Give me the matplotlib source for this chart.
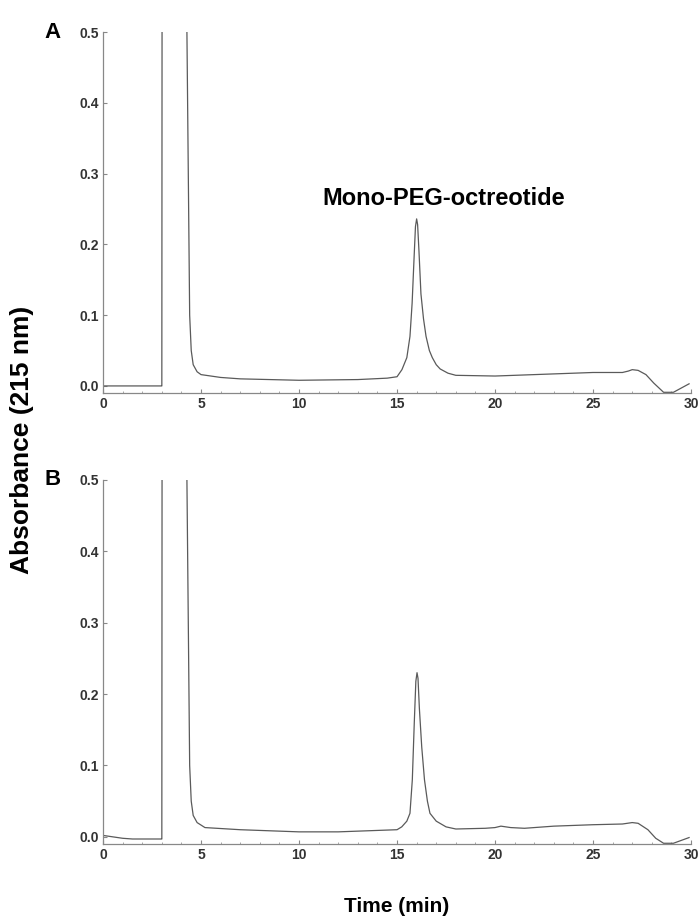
import matplotlib
matplotlib.use("Agg")
import matplotlib.pyplot as plt
from matplotlib.ticker import MultipleLocator

plt.rcParams['font.family'] = ['Liberation Sans', 'DejaVu Sans']

# Chromatogram A (time in min, absorbance at 215 nm); values above 0.5 are off scale
time_a = [0.0, 2.98, 3.0, 3.02, 4.25, 4.28, 4.35, 4.42, 4.5, 4.6, 4.8, 5.0, 6.0, 7.0, 10.0, 13.0,
          14.5, 15.0, 15.25, 15.5, 15.66, 15.77, 15.86, 15.94, 16.0, 16.05, 16.12, 16.22, 16.35,
          16.48, 16.65, 16.8, 17.0, 17.2, 17.6, 18.0, 20.0, 22.0, 25.0, 26.5, 26.8, 27.0, 27.3,
          27.7, 28.1, 28.6, 29.1, 29.5, 29.9]
abs_a = [0.0, 0.0, 0.0, 0.9, 0.9, 0.5, 0.3, 0.1, 0.05, 0.03, 0.02, 0.016, 0.012, 0.01, 0.008, 0.009,
         0.011, 0.013, 0.023, 0.04, 0.07, 0.117, 0.175, 0.225, 0.236, 0.228, 0.19, 0.13, 0.095,
         0.07, 0.05, 0.04, 0.03, 0.024, 0.018, 0.015, 0.014, 0.016, 0.019, 0.019, 0.021, 0.023, 0.022,
         0.016, 0.004, -0.009, -0.009, -0.003, 0.003]

# Chromatogram B
time_b = [0.0, 0.5, 1.0, 1.5, 2.98, 3.0, 3.02, 4.25, 4.28, 4.35, 4.42, 4.5, 4.6, 4.8, 5.2, 7.0, 10.0,
          12.0, 15.0, 15.24, 15.5, 15.66, 15.78, 15.88, 15.96, 16.02, 16.07, 16.14, 16.26, 16.4,
          16.55, 16.68, 17.0, 17.5, 18.0, 19.5, 20.0, 20.3, 20.8, 21.5, 23.0, 25.0, 26.5, 27.0,
          27.3, 27.8, 28.2, 28.6, 29.1, 29.5, 29.9]
abs_b = [0.002, 0.0, -0.002, -0.003, -0.003, -0.003, 0.9, 0.9, 0.5, 0.3, 0.1, 0.05, 0.03, 0.02, 0.013, 0.01, 0.007,
         0.007, 0.01, 0.014, 0.022, 0.033, 0.08, 0.16, 0.218, 0.23, 0.222, 0.18, 0.126, 0.08,
         0.05, 0.033, 0.022, 0.014, 0.011, 0.012, 0.013, 0.015, 0.013, 0.012, 0.015, 0.017, 0.018, 0.02,
         0.019, 0.01, -0.002, -0.009, -0.009, -0.005, -0.001]

xticks = [0, 5, 10, 15, 20, 25, 30]
yticks = [0.0, 0.1, 0.2, 0.3, 0.4, 0.5]

fig = plt.figure(figsize=(6.99, 9.23), dpi=100)
ax_a = fig.add_axes([0.1474, 0.5742, 0.8412, 0.3911])
ax_b = fig.add_axes([0.1474, 0.0856, 0.8412, 0.3944])

for ax, t, a, lab in [(ax_a, time_a, abs_a, 'A'), (ax_b, time_b, abs_b, 'B')]:
    ax.plot(t, a, color='#5a5a5a', lw=0.9)
    ax.set_xlim(0, 30)
    ax.set_ylim(-0.01, 0.5)
    ax.spines['top'].set_visible(False)
    ax.spines['right'].set_visible(False)
    for s in ['left', 'bottom']:
        ax.spines[s].set_color('#888888')
        ax.spines[s].set_linewidth(0.9)
    ax.set_xticks(xticks)
    ax.set_yticks(yticks)
    ax.set_yticklabels([f'{v:.1f}' for v in yticks])
    ax.xaxis.set_minor_locator(MultipleLocator(1))
    ax.tick_params(axis='both', which='major', direction='in', length=3, width=0.8,
                   color='#888888', labelsize=10, labelcolor='#333333', pad=3)
    ax.tick_params(axis='x', which='minor', direction='in', length=1.5, width=0.6, color='#999999')
    for tl in ax.get_xticklabels() + ax.get_yticklabels():
        tl.set_fontweight('bold')
    ax.text(-0.099, 1.0, lab, transform=ax.transAxes, fontsize=16, fontweight='bold',
            ha='left', va='center')

ax_a.text(17.4, 0.265, 'Mono-PEG-octreotide', fontsize=17, fontweight='bold',
          ha='center', va='center')

fig.text(0.031, 0.523, 'Absorbance (215 nm)', rotation=90, fontsize=19, fontweight='bold',
         ha='center', va='center')
fig.text(0.568, 0.018, 'Time (min)', fontsize=15, fontweight='bold', ha='center', va='center')

fig.savefig('out.png', dpi=100)
